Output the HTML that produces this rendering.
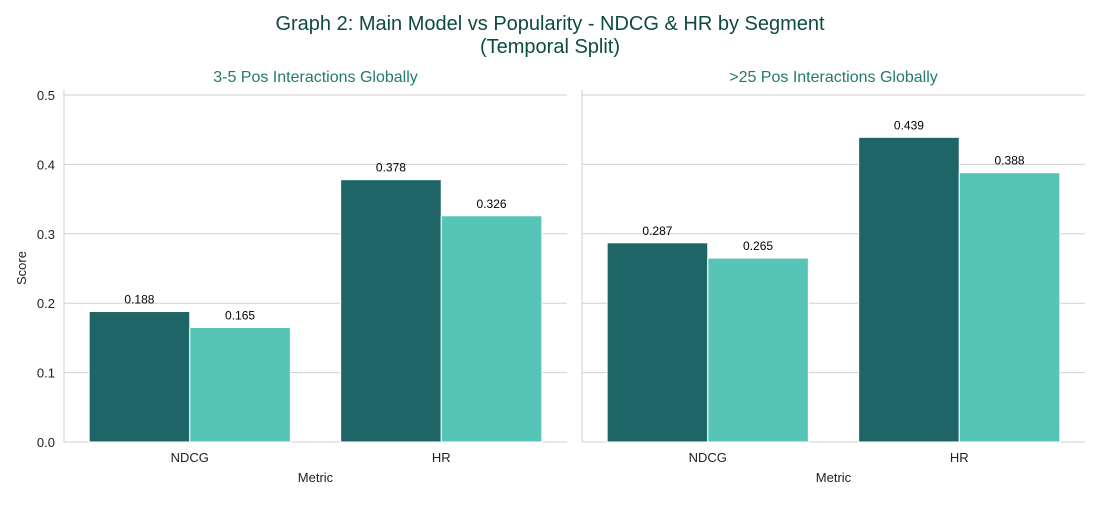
<!DOCTYPE html>
<html><head><meta charset="utf-8"><style>
body{margin:0;background:#fff;font-family:"Liberation Sans",sans-serif}
svg text{font-family:"Liberation Sans",sans-serif}
</style></head><body>
<svg id="c" width="1100" height="500">
<text x="550" y="30" text-anchor="middle" font-size="20" fill="#0d4a40">Graph 2: Main Model vs Popularity - NDCG &amp; HR by Segment</text>
<text x="550" y="53" text-anchor="middle" font-size="20" fill="#0d4a40">(Temporal Split)</text>
</svg>
<script>
const panelTitles=["3-5 Pos Interactions Globally",">25 Pos Interactions Globally"];
const categories=["NDCG","HR"];
const mainModel=[[0.188,0.378],[0.287,0.439]];
const popularity=[[0.165,0.326],[0.265,0.388]];
const yTicks=[0,0.1,0.2,0.3,0.4,0.5];
const svg=document.getElementById('c');
const NS='http://www.w3.org/2000/svg';
function mk(t,a,p){const e=document.createElementNS(NS,t);for(const k in a)e.setAttribute(k,a[k]);(p||svg).appendChild(e);return e;}
const y0=442,yTop=95,yMax=0.5;
const ys=v=>y0-(v/yMax)*(y0-yTop);
const panelX=[64,582],pw=503;
panelTitles.forEach((pt,pi)=>{
  const x0=panelX[pi];
  const g=mk('g',{});
  
  
  yTicks.forEach(t=>{
    const l=mk('line',{x1:x0,x2:x0+pw,y1:ys(t),y2:ys(t),stroke:'#d0d0d0','stroke-width':1},g);
    
    
    if(pi===0){
      const tx=mk('text',{x:x0-9,y:ys(t)+5,'text-anchor':'end','font-size':13,fill:'#222'},g);
      tx.textContent=t.toFixed(1);
      
      
    }
  });
  const sp=mk('line',{x1:x0,x2:x0,y1:yTop-5,y2:y0,stroke:'#cfcfcf','stroke-width':1},g);
  
  
  const ttl=mk('text',{x:x0+pw/2,y:82,'text-anchor':'middle','font-size':16,fill:'#227a6c'},g);
  ttl.textContent=pt;
  
  
  const bw=pw/categories.length*0.8/2;
  categories.forEach((c,ci)=>{
    const cx=x0+pw*(ci+0.5)/categories.length;
    [[mainModel[pi][ci],'#1f6467',-1],[popularity[pi][ci],'#56c5b7',0]].forEach(([v,col,off])=>{
      const bx=cx+off*bw;
      const r=mk('rect',{x:bx,y:ys(v),width:bw,height:y0-ys(v),fill:col,stroke:'#fff','stroke-width':1},g);
      
      
      const lb=mk('text',{x:bx+bw/2,y:ys(v)-8,'text-anchor':'middle','font-size':12,fill:'#000'},g);
      lb.textContent=v.toFixed(3);
      
      
    });
    const xl=mk('text',{x:cx,y:462,'text-anchor':'middle','font-size':13,fill:'#222'},g);
    xl.textContent=c;
    
    
  });
  const xt=mk('text',{x:x0+pw/2,y:482,'text-anchor':'middle','font-size':13,fill:'#222'},g);
  xt.textContent='Metric';
  
  
});
const yt=mk('text',{x:26,y:268,'text-anchor':'middle','font-size':13,fill:'#222',transform:'rotate(-90 26 268)'});
yt.textContent='Score';


</script>
</body></html>
